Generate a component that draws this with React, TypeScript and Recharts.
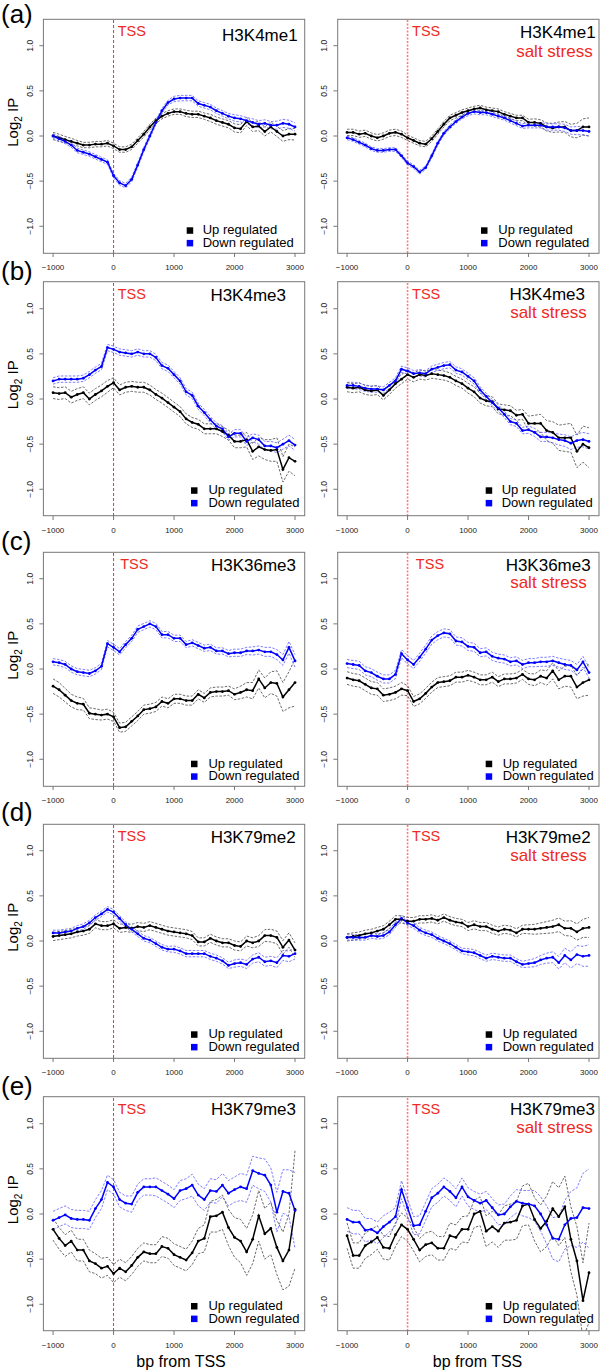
import React from 'react';
import { LineChart, Line, XAxis, YAxis, ReferenceLine } from 'recharts';

const FONT = "'Liberation Sans', Arial, Helvetica, sans-serif";
const RED = '#ee2a24';
const BLUE = '#0000ff';

// bp positions relative to TSS
const bp = [
  -1000, -900, -800, -700, -600, -500, -400, -300, -200, -100,
  0, 100, 200, 300, 400, 500, 600, 700, 800, 900,
  1000, 1100, 1200, 1300, 1400, 1500, 1600, 1700, 1800, 1900,
  2000, 2100, 2200, 2300, 2400, 2500, 2600, 2700, 2800, 2900, 3000,
];
const xTicks = [-1000, 0, 1000, 2000, 3000];
const yTicks = [-1, -0.5, 0, 0.5, 1];

// (a) H3K4me1
const k4me1Up = [
  0.0, -0.02, -0.04, -0.06, -0.08, -0.1, -0.1, -0.09, -0.09, -0.08,
  -0.11, -0.15, -0.15, -0.12, -0.05, 0.02, 0.1, 0.17, 0.22, 0.25,
  0.27, 0.27, 0.25, 0.24, 0.24, 0.22, 0.2, 0.17, 0.15, 0.13,
  0.09, 0.08, 0.16, 0.1, 0.11, 0.05, 0.1, 0.05, 0.0, 0.02, 0.02,
];
const k4me1UpHw = [
  0.04, 0.04, 0.035, 0.035, 0.03, 0.03, 0.03, 0.03, 0.03, 0.03,
  0.03, 0.03, 0.03, 0.03, 0.03, 0.03, 0.03, 0.03, 0.03, 0.03,
  0.03, 0.03, 0.035, 0.035, 0.035, 0.035, 0.04, 0.04, 0.04, 0.04,
  0.045, 0.045, 0.045, 0.05, 0.05, 0.05, 0.055, 0.055, 0.06, 0.06, 0.065,
];
const k4me1Down = [
  0.0, -0.03, -0.06, -0.1, -0.16, -0.18, -0.2, -0.23, -0.26, -0.29,
  -0.44, -0.52, -0.55, -0.48, -0.32, -0.15, 0.0, 0.15, 0.28, 0.37,
  0.41, 0.42, 0.42, 0.42, 0.36, 0.34, 0.32, 0.28, 0.25, 0.22,
  0.2, 0.19, 0.17, 0.15, 0.13, 0.14, 0.12, 0.12, 0.14, 0.13, 0.1,
];
const k4me1DownHw = [
  0.025, 0.025, 0.025, 0.025, 0.025, 0.025, 0.025, 0.025, 0.025, 0.025,
  0.025, 0.025, 0.025, 0.025, 0.025, 0.025, 0.025, 0.025, 0.025, 0.025,
  0.03, 0.03, 0.03, 0.03, 0.03, 0.03, 0.03, 0.03, 0.03, 0.03,
  0.035, 0.035, 0.035, 0.04, 0.04, 0.04, 0.04, 0.045, 0.045, 0.045, 0.045,
];
const k4me1SaltUp = [
  0.04, 0.04, 0.02, 0.03, 0.0, -0.02, 0.0, 0.03, 0.04, 0.02,
  -0.02, -0.05, -0.08, -0.09, -0.03, 0.05, 0.13, 0.2, 0.23, 0.26,
  0.28, 0.3, 0.31, 0.29, 0.28, 0.27, 0.24, 0.22, 0.2, 0.2,
  0.15, 0.15, 0.14, 0.1, 0.09, 0.1, 0.1, 0.06, 0.06, 0.1, 0.1,
];
const k4me1SaltUpHw = [
  0.035, 0.035, 0.035, 0.035, 0.035, 0.035, 0.035, 0.035, 0.035, 0.035,
  0.03, 0.03, 0.03, 0.03, 0.03, 0.03, 0.03, 0.03, 0.03, 0.03,
  0.03, 0.03, 0.03, 0.03, 0.03, 0.03, 0.03, 0.03, 0.03, 0.03,
  0.035, 0.04, 0.04, 0.045, 0.05, 0.055, 0.06, 0.07, 0.08, 0.09, 0.1,
];
const k4me1SaltDown = [
  -0.02, -0.04, -0.07, -0.1, -0.14, -0.16, -0.16, -0.15, -0.15, -0.22,
  -0.3, -0.34, -0.4, -0.35, -0.22, -0.08, 0.03, 0.1, 0.16, 0.21,
  0.25, 0.27, 0.26, 0.26, 0.24, 0.22, 0.2, 0.17, 0.14, 0.11,
  0.12, 0.12, 0.12, 0.1, 0.1, 0.1, 0.09, 0.06, 0.06, 0.06, 0.05,
];
const k4me1SaltDownHw = [
  0.02, 0.02, 0.02, 0.02, 0.02, 0.02, 0.02, 0.02, 0.02, 0.02,
  0.02, 0.02, 0.02, 0.02, 0.02, 0.02, 0.02, 0.02, 0.02, 0.02,
  0.025, 0.025, 0.025, 0.025, 0.025, 0.025, 0.025, 0.025, 0.025, 0.025,
  0.03, 0.03, 0.03, 0.035, 0.035, 0.035, 0.04, 0.04, 0.045, 0.045, 0.05,
];

// (b) H3K4me3
const k4me3Up = [
  0.07, 0.06, 0.07, 0.02, 0.05, 0.07, 0.0, 0.05, 0.09, 0.14,
  0.18, 0.1, 0.13, 0.14, 0.13, 0.13, 0.1, 0.05, 0.01, -0.04,
  -0.09, -0.14, -0.22, -0.26, -0.28, -0.33, -0.33, -0.33, -0.36, -0.4,
  -0.47, -0.47, -0.45, -0.58, -0.53, -0.56, -0.57, -0.56, -0.78, -0.65, -0.69,
];
const k4me3UpHw = [
  0.065, 0.065, 0.065, 0.065, 0.065, 0.065, 0.065, 0.065, 0.065, 0.065,
  0.055, 0.055, 0.055, 0.055, 0.055, 0.055, 0.055, 0.055, 0.055, 0.055,
  0.055, 0.055, 0.055, 0.055, 0.055, 0.055, 0.055, 0.055, 0.055, 0.055,
  0.07, 0.07, 0.08, 0.09, 0.1, 0.11, 0.12, 0.13, 0.14, 0.15, 0.16,
];
const k4me3Down = [
  0.2, 0.22, 0.22, 0.22, 0.22, 0.23, 0.27, 0.32, 0.36, 0.57,
  0.55, 0.52, 0.51, 0.5, 0.52, 0.5, 0.5, 0.46, 0.37, 0.34,
  0.27, 0.2, 0.08, 0.04, -0.08, -0.15, -0.23, -0.3, -0.33, -0.42,
  -0.38, -0.38, -0.47, -0.43, -0.45, -0.52, -0.52, -0.54, -0.5, -0.46, -0.51,
];
const k4me3DownHw = [
  0.035, 0.035, 0.035, 0.035, 0.035, 0.035, 0.035, 0.035, 0.035, 0.035,
  0.035, 0.035, 0.035, 0.035, 0.035, 0.035, 0.035, 0.035, 0.035, 0.035,
  0.035, 0.035, 0.035, 0.035, 0.035, 0.035, 0.035, 0.035, 0.035, 0.035,
  0.04, 0.04, 0.045, 0.045, 0.05, 0.05, 0.05, 0.055, 0.055, 0.06, 0.06,
];
const k4me3SaltUp = [
  0.13, 0.12, 0.13, 0.1, 0.09, 0.1, 0.04, 0.1, 0.17, 0.22,
  0.27, 0.24, 0.27, 0.26, 0.28, 0.27, 0.26, 0.24, 0.2, 0.17,
  0.12, 0.08, 0.01, -0.02, -0.03, -0.11, -0.12, -0.13, -0.18, -0.17,
  -0.27, -0.27, -0.27, -0.35, -0.37, -0.43, -0.43, -0.43, -0.58, -0.5, -0.54,
];
const k4me3SaltUpHw = [
  0.05, 0.05, 0.05, 0.05, 0.05, 0.05, 0.05, 0.05, 0.05, 0.05,
  0.05, 0.05, 0.05, 0.05, 0.05, 0.05, 0.05, 0.05, 0.05, 0.05,
  0.055, 0.055, 0.055, 0.055, 0.055, 0.055, 0.055, 0.055, 0.055, 0.055,
  0.08, 0.09, 0.1, 0.11, 0.12, 0.14, 0.15, 0.16, 0.18, 0.2, 0.22,
];
const k4me3SaltDown = [
  0.15, 0.15, 0.14, 0.12, 0.11, 0.11, 0.1, 0.15, 0.2, 0.33,
  0.31, 0.28, 0.29, 0.28, 0.33, 0.35, 0.37, 0.38, 0.32, 0.3,
  0.25, 0.2, 0.1, 0.03, -0.04, -0.1, -0.17, -0.25, -0.27, -0.35,
  -0.34, -0.37, -0.42, -0.42, -0.43, -0.45, -0.46, -0.49, -0.46, -0.45, -0.47,
];
const k4me3SaltDownHw = [
  0.035, 0.035, 0.035, 0.035, 0.035, 0.035, 0.035, 0.035, 0.035, 0.035,
  0.035, 0.035, 0.035, 0.035, 0.035, 0.035, 0.035, 0.035, 0.035, 0.035,
  0.035, 0.035, 0.035, 0.035, 0.035, 0.035, 0.035, 0.035, 0.035, 0.035,
  0.04, 0.045, 0.05, 0.05, 0.055, 0.06, 0.065, 0.07, 0.075, 0.08, 0.085,
];

// (c) H3K36me3
const k36me3Up = [
  -0.19, -0.23, -0.29, -0.35, -0.38, -0.39, -0.49, -0.5, -0.51, -0.5,
  -0.53, -0.65, -0.64, -0.58, -0.52, -0.45, -0.44, -0.42, -0.36, -0.38,
  -0.33, -0.33, -0.35, -0.35, -0.28, -0.32, -0.26, -0.25, -0.25, -0.24,
  -0.28, -0.26, -0.23, -0.24, -0.11, -0.21, -0.15, -0.16, -0.31, -0.23, -0.15,
];
const k36me3UpHw = [
  0.08, 0.08, 0.075, 0.07, 0.07, 0.065, 0.06, 0.06, 0.055, 0.055,
  0.05, 0.05, 0.05, 0.05, 0.05, 0.05, 0.05, 0.05, 0.05, 0.05,
  0.05, 0.05, 0.05, 0.05, 0.05, 0.05, 0.05, 0.05, 0.05, 0.05,
  0.06, 0.07, 0.08, 0.09, 0.1, 0.11, 0.12, 0.14, 0.16, 0.2, 0.26,
];
const k36me3Down = [
  0.08, 0.07, 0.05, 0.0, -0.03, -0.04, -0.05, -0.02, 0.03, 0.28,
  0.24, 0.19, 0.27, 0.34, 0.44, 0.47, 0.5, 0.47, 0.38, 0.38,
  0.34, 0.34, 0.27, 0.29, 0.26, 0.23, 0.24, 0.2, 0.2, 0.17,
  0.18, 0.18, 0.2, 0.2, 0.21, 0.19, 0.19, 0.16, 0.1, 0.24, 0.09,
];
const k36me3DownHw = [
  0.035, 0.035, 0.035, 0.035, 0.035, 0.035, 0.035, 0.035, 0.035, 0.035,
  0.035, 0.035, 0.035, 0.035, 0.035, 0.035, 0.035, 0.035, 0.035, 0.035,
  0.035, 0.035, 0.035, 0.035, 0.035, 0.035, 0.035, 0.035, 0.035, 0.035,
  0.04, 0.04, 0.04, 0.045, 0.045, 0.05, 0.05, 0.055, 0.06, 0.065, 0.07,
];
const k36me3SaltUp = [
  -0.1, -0.12, -0.13, -0.17, -0.21, -0.22, -0.29, -0.28, -0.26, -0.22,
  -0.24, -0.36, -0.33, -0.27, -0.2, -0.15, -0.14, -0.13, -0.09, -0.09,
  -0.07, -0.09, -0.12, -0.12, -0.09, -0.14, -0.11, -0.11, -0.1, -0.06,
  -0.11, -0.12, -0.08, -0.1, -0.02, -0.12, -0.08, -0.08, -0.2, -0.15, -0.12,
];
const k36me3SaltUpHw = [
  0.07, 0.07, 0.07, 0.07, 0.07, 0.07, 0.07, 0.07, 0.07, 0.07,
  0.055, 0.055, 0.055, 0.055, 0.055, 0.055, 0.055, 0.055, 0.055, 0.055,
  0.055, 0.055, 0.055, 0.055, 0.055, 0.055, 0.055, 0.055, 0.055, 0.055,
  0.06, 0.065, 0.07, 0.08, 0.09, 0.1, 0.11, 0.12, 0.13, 0.15, 0.17,
];
const k36me3SaltDown = [
  0.06, 0.05, 0.04, -0.02, -0.04, -0.08, -0.11, -0.11, -0.06, 0.17,
  0.1, 0.05, 0.13, 0.22, 0.32, 0.37, 0.4, 0.39, 0.31, 0.3,
  0.25, 0.24, 0.18, 0.19, 0.14, 0.12, 0.11, 0.08, 0.09, 0.05,
  0.07, 0.07, 0.08, 0.08, 0.09, 0.07, 0.05, 0.04, -0.01, 0.08, -0.04,
];
const k36me3SaltDownHw = [
  0.045, 0.045, 0.045, 0.045, 0.045, 0.045, 0.045, 0.045, 0.045, 0.045,
  0.045, 0.045, 0.045, 0.045, 0.045, 0.045, 0.045, 0.045, 0.045, 0.045,
  0.045, 0.045, 0.045, 0.045, 0.045, 0.045, 0.045, 0.045, 0.045, 0.045,
  0.045, 0.045, 0.05, 0.05, 0.05, 0.05, 0.055, 0.055, 0.06, 0.06, 0.06,
];

// (d) H3K79me2
const k79me2Up = [
  0.05, 0.06, 0.07, 0.08, 0.1, 0.11, 0.13, 0.19, 0.17, 0.17,
  0.19, 0.14, 0.15, 0.14, 0.16, 0.15, 0.17, 0.15, 0.13, 0.11,
  0.1, 0.09, 0.08, 0.06, -0.01, -0.01, 0.03, 0.0, -0.02, -0.02,
  -0.05, -0.06, 0.0, -0.02, 0.0, 0.06, 0.06, 0.04, -0.07, 0.01, -0.1,
];
const k79me2UpHw = [
  0.045, 0.045, 0.045, 0.045, 0.045, 0.045, 0.045, 0.045, 0.045, 0.045,
  0.045, 0.045, 0.045, 0.045, 0.045, 0.045, 0.045, 0.045, 0.045, 0.045,
  0.045, 0.045, 0.045, 0.045, 0.045, 0.045, 0.045, 0.045, 0.045, 0.045,
  0.05, 0.05, 0.055, 0.055, 0.06, 0.065, 0.07, 0.07, 0.075, 0.08, 0.08,
];
const k79me2Down = [
  0.09, 0.09, 0.1, 0.11, 0.14, 0.16, 0.2, 0.26, 0.3, 0.35,
  0.32, 0.25, 0.18, 0.13, 0.08, 0.03, 0.01, -0.03, -0.07, -0.09,
  -0.09, -0.11, -0.14, -0.14, -0.14, -0.14, -0.17, -0.19, -0.22, -0.27,
  -0.25, -0.24, -0.26, -0.2, -0.18, -0.23, -0.22, -0.24, -0.16, -0.17, -0.14,
];
const k79me2DownHw = [
  0.03, 0.03, 0.03, 0.03, 0.03, 0.03, 0.03, 0.03, 0.03, 0.03,
  0.03, 0.03, 0.03, 0.03, 0.03, 0.03, 0.03, 0.03, 0.03, 0.03,
  0.035, 0.035, 0.035, 0.035, 0.035, 0.035, 0.035, 0.035, 0.035, 0.035,
  0.04, 0.04, 0.045, 0.045, 0.05, 0.05, 0.05, 0.055, 0.055, 0.06, 0.06,
];
const k79me2SaltUp = [
  0.04, 0.05, 0.06, 0.08, 0.09, 0.11, 0.13, 0.18, 0.24, 0.24,
  0.22, 0.22, 0.24, 0.24, 0.25, 0.23, 0.26, 0.23, 0.21, 0.2,
  0.16, 0.18, 0.16, 0.16, 0.13, 0.11, 0.13, 0.12, 0.09, 0.13,
  0.13, 0.13, 0.14, 0.15, 0.16, 0.18, 0.14, 0.14, 0.1, 0.14, 0.15,
];
const k79me2SaltUpHw = [
  0.04, 0.04, 0.04, 0.04, 0.04, 0.04, 0.04, 0.04, 0.04, 0.04,
  0.04, 0.04, 0.04, 0.04, 0.04, 0.04, 0.04, 0.04, 0.04, 0.04,
  0.045, 0.045, 0.045, 0.045, 0.045, 0.045, 0.045, 0.045, 0.045, 0.045,
  0.05, 0.055, 0.06, 0.065, 0.07, 0.075, 0.08, 0.085, 0.09, 0.1, 0.11,
];
const k79me2SaltDown = [
  0.04, 0.04, 0.04, 0.04, 0.06, 0.05, 0.06, 0.1, 0.18, 0.25,
  0.2, 0.17, 0.12, 0.09, 0.07, 0.03, 0.0, -0.03, -0.07, -0.11,
  -0.12, -0.13, -0.16, -0.19, -0.17, -0.18, -0.19, -0.19, -0.23, -0.26,
  -0.25, -0.24, -0.21, -0.19, -0.18, -0.24, -0.16, -0.21, -0.15, -0.17, -0.16,
];
const k79me2SaltDownHw = [
  0.03, 0.03, 0.03, 0.03, 0.03, 0.03, 0.03, 0.03, 0.03, 0.03,
  0.03, 0.03, 0.03, 0.03, 0.03, 0.03, 0.03, 0.03, 0.03, 0.03,
  0.035, 0.035, 0.035, 0.035, 0.035, 0.035, 0.035, 0.035, 0.035, 0.035,
  0.04, 0.045, 0.05, 0.055, 0.06, 0.07, 0.08, 0.09, 0.1, 0.11, 0.12,
];

// (e) H3K79me3
const k79me3Up = [
  -0.17, -0.27, -0.35, -0.3, -0.4, -0.4, -0.52, -0.55, -0.6, -0.58,
  -0.66, -0.6, -0.64, -0.57, -0.48, -0.42, -0.44, -0.44, -0.36, -0.38,
  -0.45, -0.48, -0.51, -0.43, -0.3, -0.27, -0.03, -0.02, 0.02, -0.15,
  -0.26, -0.3, -0.42, -0.28, -0.02, -0.22, -0.16, -0.37, -0.52, -0.4, 0.05,
];
const k79me3UpHw = [
  0.12, 0.12, 0.12, 0.12, 0.12, 0.12, 0.12, 0.11, 0.11, 0.1,
  0.1, 0.1, 0.1, 0.1, 0.1, 0.1, 0.1, 0.1, 0.11, 0.11,
  0.12, 0.12, 0.12, 0.13, 0.14, 0.15, 0.17, 0.18, 0.19, 0.2,
  0.22, 0.24, 0.26, 0.27, 0.28, 0.28, 0.29, 0.3, 0.32, 0.4, 0.65,
];
const k79me3Down = [
  -0.07, -0.04, -0.01, -0.05, -0.06, -0.06, -0.07, 0.06, 0.16, 0.35,
  0.3, 0.16, 0.12, 0.11, 0.24, 0.3, 0.3, 0.3, 0.26, 0.22,
  0.17, 0.26, 0.28, 0.32, 0.21, 0.16, 0.26, 0.25, 0.32, 0.23,
  0.27, 0.3, 0.28, 0.48, 0.45, 0.43, 0.32, 0.02, 0.25, 0.23, 0.04,
];
const k79me3DownHw = [
  0.1, 0.1, 0.1, 0.1, 0.1, 0.1, 0.1, 0.1, 0.1, 0.08,
  0.08, 0.08, 0.08, 0.09, 0.09, 0.09, 0.09, 0.1, 0.1, 0.1,
  0.1, 0.11, 0.11, 0.12, 0.12, 0.12, 0.13, 0.13, 0.13, 0.14,
  0.14, 0.15, 0.15, 0.16, 0.17, 0.18, 0.19, 0.22, 0.24, 0.26, 0.42,
];
const k79me3SaltUp = [
  -0.24, -0.46, -0.46, -0.35, -0.31, -0.26, -0.37, -0.38, -0.23, -0.12,
  -0.17, -0.28, -0.4, -0.34, -0.32, -0.38, -0.38, -0.24, -0.26, -0.17,
  -0.17, 0.0, 0.03, -0.19, -0.14, -0.19, -0.1, -0.09, -0.07, 0.09,
  0.11, -0.06, -0.16, -0.08, 0.06, -0.03, 0.08, -0.28, -0.52, -0.96, -0.65,
];
const k79me3SaltUpHw = [
  0.14, 0.14, 0.14, 0.14, 0.14, 0.13, 0.13, 0.13, 0.13, 0.13,
  0.13, 0.13, 0.13, 0.13, 0.13, 0.13, 0.13, 0.14, 0.14, 0.14,
  0.15, 0.15, 0.16, 0.17, 0.17, 0.18, 0.19, 0.2, 0.21, 0.22,
  0.23, 0.24, 0.26, 0.28, 0.3, 0.32, 0.34, 0.36, 0.38, 0.42, 0.55,
];
const k79me3SaltDown = [
  -0.06, -0.09, -0.09, -0.18, -0.17, -0.21, -0.14, -0.09, -0.03, 0.27,
  0.07, -0.13, -0.12, 0.03, 0.18, 0.23, 0.3, 0.25, 0.18, 0.3,
  0.19, 0.15, 0.12, 0.15, 0.07, -0.01, 0.0, 0.08, 0.14, 0.12,
  0.11, 0.09, 0.0, -0.12, -0.27, -0.28, -0.12, -0.05, -0.04, 0.07, 0.06,
];
const k79me3SaltDownHw = [
  0.13, 0.13, 0.13, 0.13, 0.12, 0.12, 0.12, 0.11, 0.1, 0.1,
  0.1, 0.1, 0.1, 0.1, 0.1, 0.1, 0.1, 0.1, 0.1, 0.1,
  0.1, 0.1, 0.1, 0.1, 0.1, 0.11, 0.11, 0.12, 0.13, 0.14,
  0.15, 0.17, 0.19, 0.21, 0.23, 0.25, 0.27, 0.3, 0.33, 0.38, 0.44,
];

type Panel = {
  mark: string;
  salt: boolean;
  up: number[];
  upHw: number[];
  down: number[];
  downHw: number[];
};

const rows: Panel[][] = [
  [
    { mark: 'H3K4me1', salt: false, up: k4me1Up, upHw: k4me1UpHw, down: k4me1Down, downHw: k4me1DownHw },
    { mark: 'H3K4me1', salt: true, up: k4me1SaltUp, upHw: k4me1SaltUpHw, down: k4me1SaltDown, downHw: k4me1SaltDownHw },
  ],
  [
    { mark: 'H3K4me3', salt: false, up: k4me3Up, upHw: k4me3UpHw, down: k4me3Down, downHw: k4me3DownHw },
    { mark: 'H3K4me3', salt: true, up: k4me3SaltUp, upHw: k4me3SaltUpHw, down: k4me3SaltDown, downHw: k4me3SaltDownHw },
  ],
  [
    { mark: 'H3K36me3', salt: false, up: k36me3Up, upHw: k36me3UpHw, down: k36me3Down, downHw: k36me3DownHw },
    { mark: 'H3K36me3', salt: true, up: k36me3SaltUp, upHw: k36me3SaltUpHw, down: k36me3SaltDown, downHw: k36me3SaltDownHw },
  ],
  [
    { mark: 'H3K79me2', salt: false, up: k79me2Up, upHw: k79me2UpHw, down: k79me2Down, downHw: k79me2DownHw },
    { mark: 'H3K79me2', salt: true, up: k79me2SaltUp, upHw: k79me2SaltUpHw, down: k79me2SaltDown, downHw: k79me2SaltDownHw },
  ],
  [
    { mark: 'H3K79me3', salt: false, up: k79me3Up, upHw: k79me3UpHw, down: k79me3Down, downHw: k79me3DownHw },
    { mark: 'H3K79me3', salt: true, up: k79me3SaltUp, upHw: k79me3SaltUpHw, down: k79me3SaltDown, downHw: k79me3SaltDownHw },
  ],
];
const letters = ['(a)', '(b)', '(c)', '(d)', '(e)'];

// layout (page pixels)
const X_MIN = -1160;
const X_MAX = 3160;
const Y_LIM = 1.296;
const BOX_W = 261.3;
const BOX_H = 234;
const COL_X = [43.4, 337.7];
const ROW_Y = [19.3, 281.7, 552.3, 824.3, 1096.7];
const LETTER_Y = [22.8, 279.5, 549.5, 821, 1094.5];
const TITLE_RIGHT = [[254.3, 258], [242.6, 247.3], [252.6, 253], [252.3, 253], [252.6, 257.3]];
const TITLE_BASE = [[21.4, 19], [19, 18.3], [18.7, 18.7], [19, 19], [18.3, 18.3]];
const SALT_RIGHT = [255, 249, 249, 249, 255];
const SALT_BASE = [37.4, 36.6, 35.4, 36.7, 36];
const LEG_SQ = [[143.3, 143.3], [147.6, 148], [147.6, 148], [147.6, 148], [147.6, 148]];
const LEG_TX = [[159.3, 160.6], [165, 164], [165, 165], [165, 165], [165, 165]];
const LEG_BASE = [215, 212.6, 215.4, 214, 213.3];
const CH_LEFT = 43.4 - 35;
const CH_W = 311;
const CH_H = 284;

const fmtX = (v: number) => (v < 0 ? '\u2212' + Math.abs(v) : String(v));
const fmtY = (v: number) => (v < 0 ? '\u2212' : '') + Math.abs(v).toFixed(1);

function buildData(p: Panel) {
  return bp.map((x, i) => ({
    x,
    up: p.up[i],
    upHi: p.up[i] + p.upHw[i],
    upLo: p.up[i] - p.upHw[i],
    down: p.down[i],
    downHi: p.down[i] + p.downHw[i],
    downLo: p.down[i] - p.downHw[i],
  }));
}

function YTick(props: any) {
  const { x, y, payload } = props;
  const bx = x - 4;
  return (
    <text x={bx} y={y} textAnchor="middle" transform={`rotate(-90 ${bx} ${y})`} fontSize={8.5} fill="#222" fontFamily={FONT}>
      {fmtY(payload.value)}
    </text>
  );
}

function PanelChart({ p, salt }: { p: Panel; salt: boolean }) {
  const data = buildData(p);
  return (
    <LineChart width={CH_W} height={CH_H} data={data} margin={{ top: 20, right: CH_W - 43.4 - BOX_W, bottom: 0, left: CH_LEFT }}>
      <XAxis
        dataKey="x"
        type="number"
        domain={[X_MIN, X_MAX]}
        allowDataOverflow
        ticks={xTicks}
        interval={0}
        axisLine={false}
        tickLine={{ stroke: '#777' }}
        tickSize={4}
        tickMargin={7.5}
        height={30}
        tick={{ fontSize: 8, fill: '#222', fontFamily: FONT }}
        tickFormatter={fmtX}
      />
      <YAxis
        type="number"
        domain={[-Y_LIM, Y_LIM]}
        allowDataOverflow
        ticks={yTicks}
        interval={0}
        axisLine={false}
        tickLine={{ stroke: '#777' }}
        tickSize={4}
        width={35}
        tick={<YTick />}
      />
      <ReferenceLine
        x={0}
        stroke={salt ? '#ff7a7a' : '#ff2a2a'}
        strokeWidth={salt ? 1.6 : 1}
        strokeDasharray={salt ? '2 1.5' : '3 2'}
      />
      <Line type="linear" dataKey="upHi" stroke="#444" strokeWidth={0.8} strokeDasharray="2.5 1.5" dot={false} isAnimationActive={false} />
      <Line type="linear" dataKey="upLo" stroke="#444" strokeWidth={0.8} strokeDasharray="2.5 1.5" dot={false} isAnimationActive={false} />
      <Line type="linear" dataKey="downHi" stroke="#5c5cff" strokeWidth={0.8} strokeDasharray="2.5 1.5" dot={false} isAnimationActive={false} />
      <Line type="linear" dataKey="downLo" stroke="#5c5cff" strokeWidth={0.8} strokeDasharray="2.5 1.5" dot={false} isAnimationActive={false} />
      <Line type="linear" dataKey="up" stroke="#000" strokeWidth={1.5} dot={{ r: 1.4, fill: '#000', stroke: 'none' }} isAnimationActive={false} />
      <Line type="linear" dataKey="down" stroke={BLUE} strokeWidth={1.5} dot={{ r: 1.4, fill: BLUE, stroke: 'none' }} isAnimationActive={false} />
    </LineChart>
  );
}

export default function App() {
  const x0 = (left: number) => left + ((0 - X_MIN) / (X_MAX - X_MIN)) * BOX_W;
  return (
    <div style={{ position: 'absolute', left: 0, top: 0, width: 600, height: 1372, background: '#fff', overflow: 'hidden' }}>
      {rows.map((row, r) =>
        row.map((p, c) => (
          <div key={`${r}-${c}`} style={{ position: 'absolute', left: COL_X[c] - 43.4, top: ROW_Y[r] - 20, width: CH_W, height: CH_H }}>
            <PanelChart p={p} salt={p.salt} />
          </div>
        ))
      )}
      <svg width={600} height={1372} style={{ position: 'absolute', left: 0, top: 0, pointerEvents: 'none' }} fontFamily={FONT}>
        {rows.map((row, r) =>
          row.map((p, c) => {
            const bx = COL_X[c];
            const by = ROW_Y[r];
            const tssDx = r === 2 ? (c === 0 ? 6.7 : 8) : 4.2;
            return (
              <g key={`o-${r}-${c}`}>
                <rect x={bx} y={by} width={BOX_W} height={BOX_H} fill="none" stroke="#777" strokeWidth={1} />
                <text x={x0(bx) + tssDx} y={by + 17} fontSize={14.5} fill={RED}>TSS</text>
                <text x={bx + TITLE_RIGHT[r][c]} y={by + TITLE_BASE[r][c]} fontSize={17} fill="#000" textAnchor="end">{p.mark}</text>
                {p.salt && (
                  <text x={bx + SALT_RIGHT[r]} y={by + SALT_BASE[r]} fontSize={17} fill={RED} textAnchor="end">salt stress</text>
                )}
                <rect x={bx + LEG_SQ[r][c]} y={by + LEG_BASE[r] - 7} width={6.5} height={6.5} fill="#000" />
                <rect x={bx + LEG_SQ[r][c]} y={by + LEG_BASE[r] + 12.6 - 7} width={6.5} height={6.5} fill={BLUE} />
                <text x={bx + LEG_TX[r][c]} y={by + LEG_BASE[r]} fontSize={13} fill="#000">Up regulated</text>
                <text x={bx + LEG_TX[r][c]} y={by + LEG_BASE[r] + 12.6} fontSize={13} fill="#000">Down regulated</text>
                {c === 0 && (
                  <>
                    <text x={1} y={LETTER_Y[r]} fontSize={26} fill="#000">{letters[r]}</text>
                    <text x={18.5} y={by + 103} fontSize={15} fill="#000" textAnchor="middle" transform={`rotate(-90 18.5 ${by + 103})`}>
                      Log<tspan fontSize={10} dy={4}>2</tspan><tspan dy={-4}> IP</tspan>
                    </text>
                  </>
                )}
                {r === rows.length - 1 && (
                  <text x={c === 0 ? 181 : 477.5} y={1366.7} fontSize={16} fill="#000" textAnchor="middle">bp from TSS</text>
                )}
              </g>
            );
          })
        )}
      </svg>
    </div>
  );
}
